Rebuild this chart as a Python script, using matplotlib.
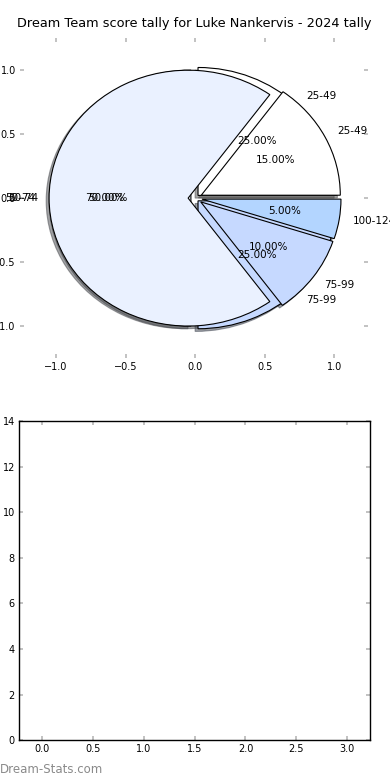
import matplotlib
matplotlib.use("Agg")
import matplotlib.pyplot as plt

# score bands and share of games, two tallies drawn on the same pie axes
bands_a = ['25-49', '50-74', '75-99']
values_a = [25, 50, 25]
bands_b = ['25-49', '50-74', '75-99', '100-124']
values_b = [15, 70, 10, 5]

band_colours = {'25-49': '#ffffff', '50-74': '#eaf1ff',
                '75-99': '#c6d9ff', '100-124': '#b3d5ff'}

title = 'Dream Team score tally for Luke Nankervis - 2024 tally'
bar_xticks = [0.0, 0.5, 1.0, 1.5, 2.0, 2.5, 3.0]
bar_yticks = [0, 2, 4, 6, 8, 10, 12, 14]

fig = plt.figure(figsize=(3.9, 7.8), dpi=100)

# pie axes
ax = fig.add_axes([0.051, 0.541, 0.893, 0.410])
ax.pie(values_a, labels=bands_a, colors=[band_colours[b] for b in bands_a],
       autopct='%.2f%%', explode=[0.03] * len(values_a),
       shadow={'ox': -0.015, 'oy': -0.015},
       wedgeprops={'edgecolor': 'black', 'linewidth': 0.8},
       textprops={'fontsize': 7.5})
ax.pie(values_b, labels=bands_b, colors=[band_colours[b] for b in bands_b],
       autopct='%.2f%%', explode=[0.05] * len(values_b),
       shadow={'ox': -0.015, 'oy': -0.015},
       wedgeprops={'edgecolor': 'black', 'linewidth': 0.8},
       textprops={'fontsize': 7.5})
ax.set_aspect('auto')
ax.set_xlim(-1.26, 1.245)
ax.set_ylim(-1.25, 1.25)
ax.set_xticks([-1.0, -0.5, 0.0, 0.5, 1.0])
ax.set_yticks([-1.0, -0.5, 0.0, 0.5, 1.0])
ax.set_frame_on(False)
ax.tick_params(direction='in', length=3, width=1.2, color='#b8b8b8',
               labelsize=7, top=True, right=True, pad=3)
ax.set_title(title, fontsize=9.3, pad=8)

# empty bar axes underneath
ax2 = fig.add_axes([0.049, 0.051, 0.900, 0.409])
ax2.set_xlim(-0.225, 3.225)
ax2.set_ylim(0, 14)
ax2.set_xticks(bar_xticks)
ax2.set_yticks(bar_yticks)
ax2.tick_params(direction='in', length=3, width=1.2, color='#b8b8b8',
                labelsize=7, top=True, right=True, pad=3)
for sp in ax2.spines.values():
    sp.set_linewidth(1.0)

fig.text(0.0, 0.005, 'Dream-Stats.com', color='#8a8a8a', fontsize=8.5,
         ha='left', va='bottom')

fig.savefig('out.png', dpi=100)
